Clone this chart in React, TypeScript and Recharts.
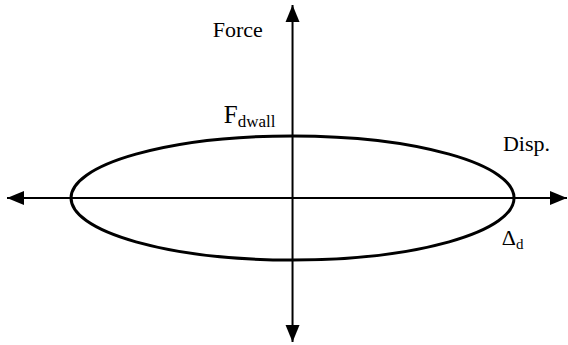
import { ScatterChart, XAxis, YAxis, ReferenceArea, ReferenceLine, ReferenceDot } from "recharts";

// hysteresis loop: peak displacement and peak wall force (arbitrary units)
const deltaD = 10;
const fDwall = 5;

// axis extents (where the arrow tips end up)
const dispRange: [number, number] = [-12.89, 12.39];
const forceRange: [number, number] = [-11.61, 15.56];

// annotations: position in data units, main text, subscript
const labels: { x: number; y: number; text: string; sub: string; size: number }[] = [
  { x: -3.6, y: 13.0, text: "Force", sub: "", size: 22 },
  { x: -3.1, y: 6.05, text: "F", sub: "dwall", size: 25 },
  { x: 9.5, y: 3.8, text: "Disp.", sub: "", size: 22 },
  { x: 9.45, y: -3.8, text: "Δ", sub: "d", size: 22 },
];

const SERIF = "'Liberation Serif', 'Times New Roman', serif";
const HEAD_LEN = 17;
const HEAD_W = 7;

function ArrowAxis(props: any) {
  const { x1, y1, x2, y2 } = props;
  const horizontal = Math.abs(y1 - y2) < 0.5;
  let heads;
  if (horizontal) {
    const l = Math.min(x1, x2);
    const r = Math.max(x1, x2);
    const y = y1;
    heads = (
      <>
        <polygon points={`${l},${y} ${l + HEAD_LEN},${y - HEAD_W} ${l + HEAD_LEN},${y + HEAD_W}`} fill="#000" />
        <polygon points={`${r},${y} ${r - HEAD_LEN},${y - HEAD_W} ${r - HEAD_LEN},${y + HEAD_W}`} fill="#000" />
      </>
    );
  } else {
    const t = Math.min(y1, y2);
    const b = Math.max(y1, y2);
    const x = x1;
    heads = (
      <>
        <polygon points={`${x},${t} ${x - HEAD_W},${t + HEAD_LEN} ${x + HEAD_W},${t + HEAD_LEN}`} fill="#000" />
        <polygon points={`${x},${b} ${x - HEAD_W},${b - HEAD_LEN} ${x + HEAD_W},${b - HEAD_LEN}`} fill="#000" />
      </>
    );
  }
  return (
    <g>
      <line x1={x1} y1={y1} x2={x2} y2={y2} stroke="#000" strokeWidth={2} />
      {heads}
    </g>
  );
}

function Loop(props: any) {
  const { x, y, width, height } = props;
  return (
    <ellipse
      cx={x + width / 2}
      cy={y + height / 2}
      rx={Math.abs(width) / 2}
      ry={Math.abs(height) / 2}
      fill="none"
      stroke="#000"
      strokeWidth={3}
    />
  );
}

function AxisText(l: (typeof labels)[number]) {
  return (p: any) => (
    <g>
      <text x={p.cx} y={p.cy} fill="#000" style={{ fontFamily: SERIF, fontSize: l.size }}>
        {l.text}
        {l.sub ? (
          <tspan dy={4} style={{ fontFamily: SERIF, fontSize: Math.round(l.size * 0.68) }}>
            {l.sub}
          </tspan>
        ) : null}
      </text>
    </g>
  );
}

export default function App() {
  return (
    <div style={{ position: "absolute", left: 0, top: 0, background: "#fff", fontFamily: SERIF }}>
      <ScatterChart width={568} height={345} margin={{ top: 5, right: 1, bottom: 3, left: 7 }}>
        <XAxis type="number" dataKey="x" domain={dispRange} hide allowDataOverflow />
        <YAxis type="number" dataKey="y" domain={forceRange} hide allowDataOverflow />
        <ReferenceLine y={0} shape={ArrowAxis} />
        <ReferenceLine x={0} shape={ArrowAxis} />
        <ReferenceArea x1={-deltaD} x2={deltaD} y1={-fDwall} y2={fDwall} shape={Loop} />
        {labels.map((l) => (
          <ReferenceDot key={l.text} x={l.x} y={l.y} r={0} shape={AxisText(l)} />
        ))}
      </ScatterChart>
    </div>
  );
}
